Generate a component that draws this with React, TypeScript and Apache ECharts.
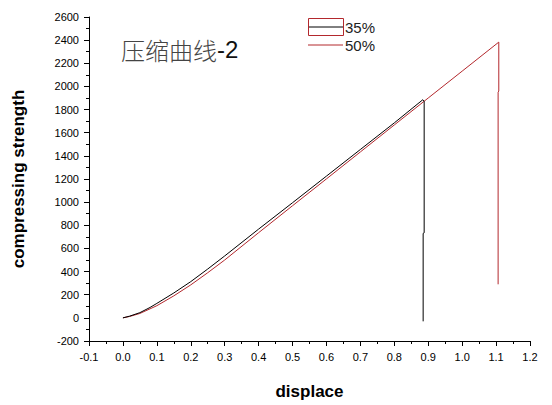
import React, { useEffect, useRef } from "react";
import * as echarts from "echarts";

const titleCn = "压缩曲线";
const titleSuffix = "-2";
const xName = "displace";
const yName = "compressing strength";
const seriesNames = ["35%", "50%"];

const x35 = [0, 0.02, 0.05, 0.08, 0.1, 0.15, 0.2, 0.25, 0.3, 0.4, 0.5, 0.6, 0.7, 0.8, 0.884, 0.888, 0.888, 0.885, 0.885];
const y35 = [0, 15, 45, 90, 125, 215, 313, 422, 535, 767, 995, 1225, 1455, 1685, 1885, 1870, 735, 730, -30];

const x50 = [0, 0.02, 0.05, 0.08, 0.1, 0.15, 0.2, 0.25, 0.3, 0.4, 0.5, 0.6, 0.7, 0.8, 0.9, 1.0, 1.108, 1.108, 1.106, 1.106];
const y50 = [0, 12, 38, 78, 105, 190, 285, 390, 500, 736, 969, 1201, 1434, 1667, 1900, 2132, 2383, 1960, 1950, 290];

const xMin = -0.1, xMax = 1.2, xStep = 0.1;
const yMin = -200, yMax = 2600, yStep = 200;

const RED = "#b3282d";

function pairs(xs: number[], ys: number[]) {
  return xs.map((x, i) => [x, ys[i]]);
}

export default function App() {
  const ref = useRef<HTMLDivElement>(null);
  useEffect(() => {
    if (!ref.current) return;
    const chart = echarts.init(ref.current, undefined, { renderer: "svg" });
    const axisCommon = {
      axisLine: { show: true, onZero: false, lineStyle: { color: "#000", width: 1 } },
      axisTick: { show: true, inside: false, length: 5, lineStyle: { color: "#000" } },
      minorTick: { show: true, splitNumber: 2, length: 3, lineStyle: { color: "#000" } },
      splitLine: { show: false },
      minorSplitLine: { show: false },
    };
    chart.setOption({
      animation: false,
      backgroundColor: "#fff",
      grid: { left: 89, right: 22, top: 17, bottom: 57, containLabel: false },
      title: {
        text: `{cn|${titleCn}}{en|${titleSuffix}}`,
        left: 116,
        top: 32,
        textStyle: {
          fontWeight: "normal",
          rich: {
            cn: { fontFamily: "Noto Sans CJK SC", fontWeight: 300, fontSize: 24, color: "#444" },
            en: { fontFamily: "Liberation Sans, Arial", fontWeight: "normal", fontSize: 24, color: "#111" },
          },
        },
      },
      xAxis: {
        type: "value",
        min: xMin,
        max: xMax,
        interval: xStep,
        name: xName,
        nameLocation: "middle",
        nameGap: 42,
        nameTextStyle: { fontFamily: "Liberation Sans, Arial", fontSize: 17, fontWeight: "bold", color: "#000" },
        axisLabel: {
          margin: 10,
          fontFamily: "Liberation Sans, Arial",
          fontSize: 11,
          color: "#000",
          formatter: (v: number) => v.toFixed(1),
        },
        ...axisCommon,
      },
      yAxis: {
        type: "value",
        min: yMin,
        max: yMax,
        interval: yStep,
        name: yName,
        nameLocation: "middle",
        nameGap: 62,
        nameTextStyle: { fontFamily: "Liberation Sans, Arial", fontSize: 17, fontWeight: "bold", color: "#000" },
        axisLabel: {
          margin: 10,
          fontFamily: "Liberation Sans, Arial",
          fontSize: 11,
          color: "#000",
          formatter: (v: number) => String(Math.round(v)),
        },
        ...axisCommon,
      },
      series: [
        {
          name: seriesNames[0],
          type: "line",
          data: pairs(x35, y35),
          showSymbol: false,
          lineStyle: { color: "#000", width: 1 },
          z: 3,
        },
        {
          name: seriesNames[1],
          type: "line",
          data: pairs(x50, y50),
          showSymbol: false,
          lineStyle: { color: RED, width: 1 },
          z: 2,
        },
      ],
      graphic: [
        { type: "rect", shape: { x: 308.5, y: 18.5, width: 35, height: 17 }, style: { fill: "none", stroke: RED, lineWidth: 1 } },
        { type: "line", shape: { x1: 309, y1: 27, x2: 343, y2: 27 }, style: { stroke: "#000", lineWidth: 1 } },
        { type: "text", x: 345, y: 27, style: { text: seriesNames[0], fontFamily: "Liberation Sans, Arial", fontSize: 15, fill: "#222", verticalAlign: "middle" } },
        { type: "line", shape: { x1: 308, y1: 45, x2: 343, y2: 45 }, style: { stroke: RED, lineWidth: 1 } },
        { type: "text", x: 345, y: 45, style: { text: seriesNames[1], fontFamily: "Liberation Sans, Arial", fontSize: 15, fill: "#222", verticalAlign: "middle" } },
      ],
    });
    return () => chart.dispose();
  }, []);
  return <div ref={ref} style={{ width: 552, height: 405, position: "absolute", left: 0, top: 0 }} />;
}
